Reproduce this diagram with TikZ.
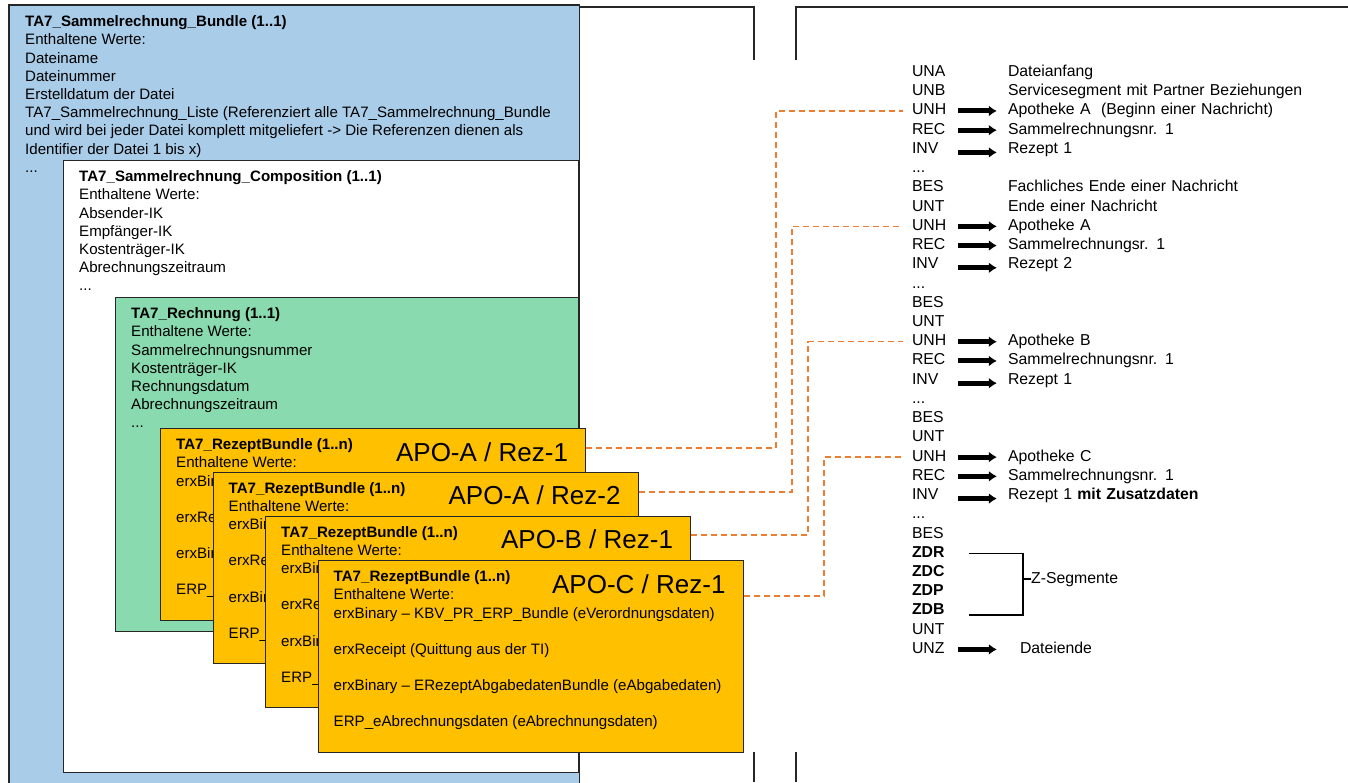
\documentclass[tikz,border=0pt]{standalone}
\usepackage{fontspec}
\setmainfont{Liberation Sans}
\usetikzlibrary{positioning, arrows.meta}
\definecolor{bundleblue}{RGB}{169,204,232}
\definecolor{rechnunggreen}{RGB}{137,219,175}
\definecolor{rezeptorange}{RGB}{255,192,0}
\definecolor{linkorange}{RGB}{237,125,49}
\tikzstyle{box} = [draw=black!85, line width=1.2pt, rectangle, inner sep=0pt, anchor=north west]
\tikzstyle{rezept} = [box, fill=rezeptorange, minimum width=425pt, minimum height=191.5pt]
\tikzstyle{boxtext} = [align=left, inner sep=0pt, font=\fontsize{15.1}{18.2}\selectfont]
\tikzstyle{apo} = [inner sep=0pt, font=\fontsize{26}{30}\selectfont]
\tikzstyle{seg} = [text width=36pt, text height=11pt, text depth=3pt, align=left, inner sep=0pt, font=\fontsize{15.8}{19}\selectfont]
\tikzstyle{desc} = [seg, text width=330pt, node distance=243pt]
\tikzstyle{segarrow} = [->, line width=5pt, shorten <=10pt, shorten >=11pt]
\tikzstyle{link} = [draw=linkorange, line width=1.5pt, dash pattern=on 6pt off 4pt]
\tikzstyle{slideframe} = [draw=black!85, line width=1.2pt]

\begin{document}
\begin{tikzpicture}[x=1pt, y=-1pt, node distance=19.23pt, >={Latex[length=8pt,width=11pt]}]
	\useasboundingbox (0,0) rectangle (1348,782);

	% left part: nested boxes
	\node [box, fill=bundleblue, draw=none, minimum width=569pt, minimum height=777pt] (bundle) at (9,5) {};
	\draw [slideframe] (bundle.south west) -- (bundle.north west) -- (bundle.north east) -- (bundle.south east);
	\node [boxtext, below right=10.6pt and 16pt of bundle.north west] (bundletext) {\textbf{TA7\_Sammelrechnung\_Bundle (1..1)}\\
		Enthaltene Werte:\\
		Dateiname\\
		Dateinummer\\
		Erstelldatum der Datei\\
		TA7\_Sammelrechnung\_Liste (Referenziert alle TA7\_Sammelrechnung\_Bundle\\
		und wird bei jeder Datei komplett mitgeliefert -> Die Referenzen dienen als\\
		Identifier der Datei 1 bis x)\\
		...};

	\node [box, fill=white, minimum width=515pt, minimum height=612pt] (composition) at (63,160) {};
	\node [boxtext, below right=10.6pt and 16pt of composition.north west] (compositiontext) {\textbf{TA7\_Sammelrechnung\_Composition (1..1)}\\
		Enthaltene Werte:\\
		Absender-IK\\
		Empfänger-IK\\
		Kostenträger-IK\\
		Abrechnungszeitraum\\
		...};

	\node [box, fill=rechnunggreen, minimum width=463pt, minimum height=334pt] (rechnung) at (115,297) {};
	\node [boxtext, below right=10.6pt and 16pt of rechnung.north west] (rechnungtext) {\textbf{TA7\_Rechnung (1..1)}\\
		Enthaltene Werte:\\
		Sammelrechnungsnummer\\
		Kostenträger-IK\\
		Rechnungsdatum\\
		Abrechnungszeitraum\\
		...};

	% Rezept bundles
	\node [rezept] (rez1) at (160,428) {};
	\node [boxtext, below right=10.6pt and 16pt of rez1.north west] (rez1text) {\textbf{TA7\_RezeptBundle (1..n)}\\
		Enthaltene Werte:\\
		erxBinary -- KBV\_PR\_ERP\_Bundle (eVerordnungsdaten)\\[18pt]
		erxReceipt (Quittung aus der TI)\\[18pt]
		erxBinary -- ERezeptAbgabedatenBundle (eAbgabedaten)\\[18pt]
		ERP\_eAbrechnungsdaten (eAbrechnungsdaten)};
	\node [apo, below left=14pt and 18pt of rez1.north east] (apo1) {APO-A / Rez-1};

	\node [rezept] (rez2) at (212.5,471.5) {};
	\node [boxtext, below right=10.6pt and 16pt of rez2.north west] (rez2text) {\textbf{TA7\_RezeptBundle (1..n)}\\
		Enthaltene Werte:\\
		erxBinary -- KBV\_PR\_ERP\_Bundle (eVerordnungsdaten)\\[18pt]
		erxReceipt (Quittung aus der TI)\\[18pt]
		erxBinary -- ERezeptAbgabedatenBundle (eAbgabedaten)\\[18pt]
		ERP\_eAbrechnungsdaten (eAbrechnungsdaten)};
	\node [apo, below left=14pt and 18pt of rez2.north east] (apo2) {APO-A / Rez-2};

	\node [rezept] (rez3) at (265,515.5) {};
	\node [boxtext, below right=10.6pt and 16pt of rez3.north west] (rez3text) {\textbf{TA7\_RezeptBundle (1..n)}\\
		Enthaltene Werte:\\
		erxBinary -- KBV\_PR\_ERP\_Bundle (eVerordnungsdaten)\\[18pt]
		erxReceipt (Quittung aus der TI)\\[18pt]
		erxBinary -- ERezeptAbgabedatenBundle (eAbgabedaten)\\[18pt]
		ERP\_eAbrechnungsdaten (eAbrechnungsdaten)};
	\node [apo, below left=14pt and 18pt of rez3.north east] (apo3) {APO-B / Rez-1};

	\node [rezept] (rez4) at (317.5,560) {};
	\node [boxtext, below right=10.6pt and 16pt of rez4.north west] (rez4text) {\textbf{TA7\_RezeptBundle (1..n)}\\
		Enthaltene Werte:\\
		erxBinary -- KBV\_PR\_ERP\_Bundle (eVerordnungsdaten)\\[18pt]
		erxReceipt (Quittung aus der TI)\\[18pt]
		erxBinary -- ERezeptAbgabedatenBundle (eAbgabedaten)\\[18pt]
		ERP\_eAbrechnungsdaten (eAbrechnungsdaten)};
	\node [apo, below left=14pt and 18pt of rez4.north east] (apo4) {APO-C / Rez-1};

	% slide frames
	\draw [slideframe] (bundle.north east |- 0,7) -- (754,7) -- (754,60);
	\draw [slideframe] (796,60) -- (796,7) -- (1349,7);
	\draw [slideframe] (754,752) -- (754,782);
	\draw [slideframe] (796,752) -- (796,782);

	% right part: segment list
	\node [seg] (una) at (930,72.5) {UNA};
	\node [seg, below of=una] (unb) {UNB};
	\node [seg, below of=unb] (unh1) {UNH};
	\node [seg, below of=unh1] (rec1) {REC};
	\node [seg, below of=rec1] (inv1) {INV};
	\node [seg, below of=inv1] (dots1) {...};
	\node [seg, below of=dots1] (bes1) {BES};
	\node [seg, below of=bes1] (unt1) {UNT};
	\node [seg, below of=unt1] (unh2) {UNH};
	\node [seg, below of=unh2] (rec2) {REC};
	\node [seg, below of=rec2] (inv2) {INV};
	\node [seg, below of=inv2] (dots2) {...};
	\node [seg, below of=dots2] (bes2) {BES};
	\node [seg, below of=bes2] (unt2) {UNT};
	\node [seg, below of=unt2] (unh3) {UNH};
	\node [seg, below of=unh3] (rec3) {REC};
	\node [seg, below of=rec3] (inv3) {INV};
	\node [seg, below of=inv3] (dots3) {...};
	\node [seg, below of=dots3] (bes3) {BES};
	\node [seg, below of=bes3] (unt3) {UNT};
	\node [seg, below of=unt3] (unh4) {UNH};
	\node [seg, below of=unh4] (rec4) {REC};
	\node [seg, below of=rec4] (inv4) {INV};
	\node [seg, below of=inv4] (dots4) {...};
	\node [seg, below of=dots4] (bes4) {BES};
	\node [seg, below of=bes4] (zdr) {\textbf{ZDR}};
	\node [seg, below of=zdr] (zdc) {\textbf{ZDC}};
	\node [seg, below of=zdc] (zdp) {\textbf{ZDP}};
	\node [seg, below of=zdp] (zdb) {\textbf{ZDB}};
	\node [seg, below of=zdb] (unt5) {UNT};
	\node [seg, below of=unt5] (unz) {UNZ};

	\node [desc, right of=una] (dateianfang) {Dateianfang};
	\node [desc, right of=unb] (servicesegment) {Servicesegment mit Partner Beziehungen};
	\node [desc, right of=unh1] (apothekeA1) {Apotheke A\ \ (Beginn einer Nachricht)};
	\node [desc, right of=rec1] (srnr1) {Sammelrechnungsnr. 1};
	\node [desc, right of=inv1] (rezept1) {Rezept 1};
	\node [desc, right of=bes1] (fachende) {Fachliches Ende einer Nachricht};
	\node [desc, right of=unt1] (nachrichtende) {Ende einer Nachricht};
	\node [desc, right of=unh2] (apothekeA2) {Apotheke A};
	\node [desc, right of=rec2] (srnr2) {Sammelrechnungsr. 1};
	\node [desc, right of=inv2] (rezept2) {Rezept 2};
	\node [desc, right of=unh3] (apothekeB) {Apotheke B};
	\node [desc, right of=rec3] (srnr3) {Sammelrechnungsnr. 1};
	\node [desc, right of=inv3] (rezept3) {Rezept 1};
	\node [desc, right of=unh4] (apothekeC) {Apotheke C};
	\node [desc, right of=rec4] (srnr4) {Sammelrechnungsnr. 1};
	\node [desc, right of=inv4] (rezept4) {Rezept 1 \textbf{mit Zusatzdaten}};
	\node [desc, right of=unz, xshift=12pt] (dateiende) {Dateiende};
	\node [seg, text width=100pt, anchor=west] (zsegmente) at (1031,579) {Z-Segmente};

	\draw [segarrow] (unh1) -- (apothekeA1);
	\draw [segarrow] (rec1) -- (srnr1);
	\draw [segarrow] ([yshift=-3pt]inv1.east) -- ([yshift=-3pt]rezept1.west);
	\draw [segarrow] (unh2) -- (apothekeA2);
	\draw [segarrow] (rec2) -- (srnr2);
	\draw [segarrow] ([yshift=-3pt]inv2.east) -- ([yshift=-3pt]rezept2.west);
	\draw [segarrow] (unh3) -- (apothekeB);
	\draw [segarrow] (rec3) -- (srnr3);
	\draw [segarrow] ([yshift=-3pt]inv3.east) -- ([yshift=-3pt]rezept3.west);
	\draw [segarrow] (unh4) -- (apothekeC);
	\draw [segarrow] (rec4) -- (srnr4);
	\draw [segarrow] ([yshift=-3pt]inv4.east) -- ([yshift=-3pt]rezept4.west);
	\draw [segarrow, shorten >=23pt] (unz) -- (dateiende);

	% Z-Segmente bracket
	\draw [line width=1.2pt] ([xshift=21pt]zdr.east) -| ([xshift=-8pt]zsegmente.west) |- ([xshift=21pt, yshift=-4pt]zdb.east);
	\draw [line width=1.2pt] ([xshift=-8pt]zsegmente.west) -- (zsegmente.west);

	% dashed links from the bundles to their UNH segments
	\coordinate (turn1) at (776,0);
	\coordinate (turn2) at (792,0);
	\coordinate (turn3) at (808,0);
	\coordinate (turn4) at (824,0);
	\draw [link] ([yshift=-20pt]rez1.north east) -| (turn1 |- unh1) -- ([xshift=-9pt]unh1.west);
	\draw [link] ([yshift=-20.5pt]rez2.north east) -| (turn2 |- unh2) -- ([xshift=-9pt]unh2.west);
	\draw [link] ([yshift=-19.5pt]rez3.north east) -| (turn3 |- unh3) -- ([xshift=-9pt]unh3.west);
	\draw [link] ([yshift=-36pt]rez4.north east) -| (turn4 |- unh4) -- ([xshift=-9pt]unh4.west);
\end{tikzpicture}
\end{document}
